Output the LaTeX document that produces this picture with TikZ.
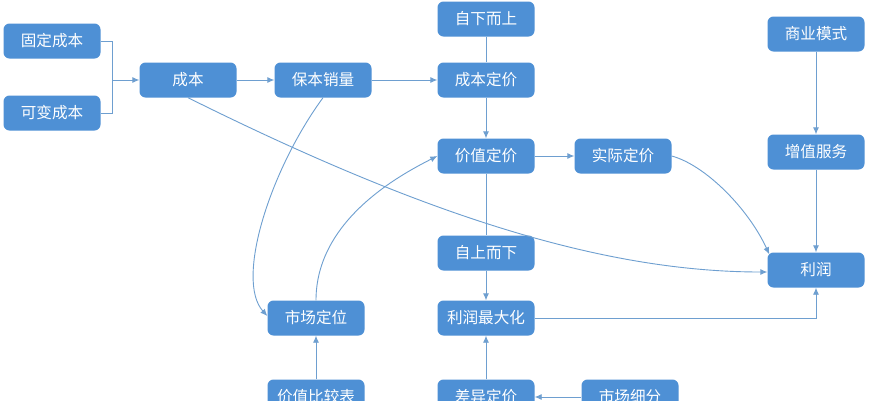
\documentclass[tikz,border=0pt]{standalone}
\usepackage{fontspec}
\setmainfont{Noto Sans CJK SC}
\usetikzlibrary{arrows.meta}
\definecolor{nodeblue}{HTML}{4E90D5}
\definecolor{lineblue}{HTML}{6E9FD0}
\begin{document}
\begin{tikzpicture}[x=1pt,y=-1pt,
  box/.style={rectangle, rounded corners=6pt, fill=nodeblue, text=white,
    minimum width=97pt, minimum height=35pt, inner sep=0pt,
    font=\fontsize{15.6}{18}\selectfont},
  conn/.style={draw=lineblue, line width=0.9pt},
  arr/.style={conn, -{Latex[length=7pt,width=6pt]}}]
\useasboundingbox (0,0) rectangle (870,400);
\fill[white] (0,0) rectangle (870,400);
% nodes
\node[box] (fixed) at (52,41) {固定成本};
\node[box] (var) at (52,113) {可变成本};
\node[box] (cost) at (188,80) {成本};
\node[box] (bep) at (323,80) {保本销量};
\node[box] (bu) at (486,19) {自下而上};
\node[box] (cp) at (486,80) {成本定价};
\node[box] (vp) at (486,156) {价值定价};
\node[box] (ap) at (623,156) {实际定价};
\node[box] (bm) at (816,34) {商业模式};
\node[box] (vas) at (816,152) {增值服务};
\node[box] (profit) at (816,270) {利润};
\node[box] (td) at (486,253) {自上而下};
\node[box] (pm) at (486,318) {利润最大化};
\node[box] (mp) at (316,318) {市场定位};
\node[box] (vct) at (316,397) {价值比较表};
\node[box] (dp) at (486,397) {差异定价};
\node[box] (ms) at (630,397) {市场细分};
% connectors
\coordinate (j) at (112,80);
\draw[conn] (fixed.east) -| (j);
\draw[conn] (var.east) -| (j);
\draw[arr] (j) -- (cost.west);
\draw[arr] (cost) -- (bep);
\draw[arr] (bep) -- (cp);
\draw[conn] (bu) -- (cp);
\draw[arr] (cp) -- (vp);
\draw[arr] (vp) -- (ap);
\draw[conn] (vp) -- (td);
\draw[arr] (td) -- (pm);
\draw[arr] (dp) -- (pm);
\draw[arr] (ms) -- (dp);
\draw[arr] (vct) -- (mp);
\draw[arr] (bm) -- (vas);
\draw[arr] (vas) -- (profit);
\draw[arr] (pm.east) -| (profit.south);
\draw[arr] (mp.north) .. controls (316,220) and (400,175) .. (vp.west);
\draw[arr] (bep.south) .. controls (270,170) and (235,280) .. ([yshift=2pt]mp.west);
\draw[arr] (cost.south) .. controls (420,213) and (600,272) .. ([yshift=-2pt]profit.west);
\draw[arr] (ap.east) .. controls (705,165) and (748,208) .. ([shift={(2pt,-2pt)}]profit.north west);
\end{tikzpicture}
\end{document}
